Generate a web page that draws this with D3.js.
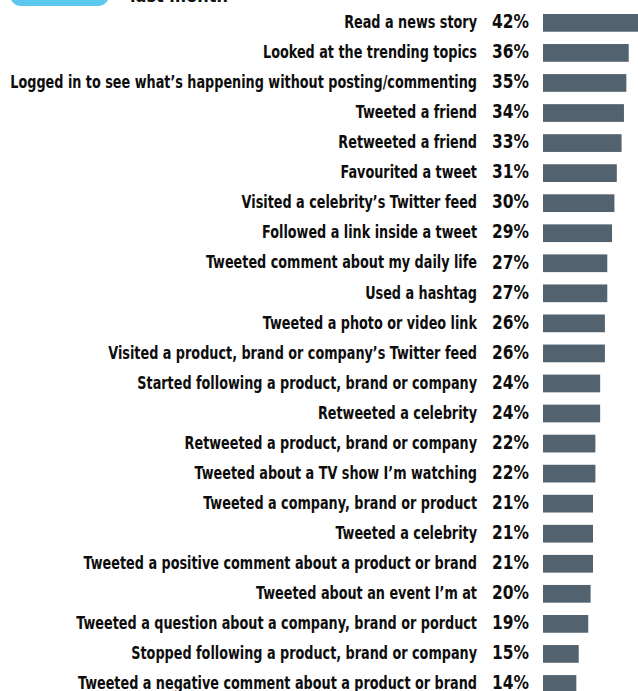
<!DOCTYPE html>
<html><head><meta charset="utf-8">
<script src="https://cdn.jsdelivr.net/npm/d3@7"></script>
<style>
html,body{margin:0;padding:0;background:#fff;overflow:hidden}
text{font-family:"Liberation Sans Narrow","DejaVu Sans Condensed","Liberation Sans",sans-serif;font-weight:bold}
</style></head><body>
<svg id="c" width="638" height="691"></svg>
<script>
const categories = [
 "Read a news story","Looked at the trending topics","Logged in to see what\u2019s happening without posting/commenting",
 "Tweeted a friend","Retweeted a friend","Favourited a tweet","Visited a celebrity\u2019s Twitter feed",
 "Followed a link inside a tweet","Tweeted comment about my daily life","Used a hashtag",
 "Tweeted a photo or video link","Visited a product, brand or company\u2019s Twitter feed",
 "Started following a product, brand or company","Retweeted a celebrity","Retweeted a product, brand or company",
 "Tweeted about a TV show I\u2019m watching","Tweeted a company, brand or product","Tweeted a celebrity",
 "Tweeted a positive comment about a product or brand","Tweeted about an event I\u2019m at",
 "Tweeted a question about a company, brand or porduct","Stopped following a product, brand or company",
 "Tweeted a negative comment about a product or brand"];
const values = [42,36,35,34,33,31,30,29,27,27,26,26,24,24,22,22,21,21,21,20,19,15,14];
const headerText = "last month";

const svg = d3.select("#c");
const x = d3.scaleLinear().domain([0,42]).range([543,543+100]);
const y = d3.scaleBand().domain(categories).range([7.84,7.84+30.05*categories.length]).paddingInner(0.41).paddingOuter(0.205);

svg.append("rect").attr("x",10).attr("y",-30).attr("width",99).attr("height",36).attr("rx",11).attr("fill","#5bc9ef");
const hdr = svg.append("text").attr("font-size",17).attr("fill","#111").text(headerText);

const rows = svg.selectAll("g.row").data(categories).join("g").attr("class","row");
rows.append("rect").attr("x",x(0)).attr("y",d=>y(d)).attr("height",y.bandwidth())
  .attr("width",(d,i)=>x(values[i])-x(0)).attr("fill","#52636f");
const lab = rows.append("text").attr("dy","0.29em")
  .attr("text-anchor","end").attr("font-size",18).attr("fill","#0d0d0d").text(d=>d);
const pct = rows.append("text").attr("dy","0.27em")
  .attr("text-anchor","end").attr("font-size",19.5).attr("fill","#0d0d0d").text((d,i)=>values[i]+"%");

// condense text horizontally to match the reference's condensed face
const longest = lab.nodes()[2].getComputedTextLength();
const f = 467/longest;
lab.attr("transform",d=>`translate(477,${y(d)+y.bandwidth()/2}) scale(${f},1)`);
const pw = pct.nodes()[0].getComputedTextLength();
const fp = 37/pw;
pct.attr("transform",d=>`translate(529,${y(d)+y.bandwidth()/2}) scale(${fp},1)`);
const hw = hdr.node().getComputedTextLength();
hdr.attr("transform",`translate(130,2) scale(${98/hw},1)`);
</script></body></html>
